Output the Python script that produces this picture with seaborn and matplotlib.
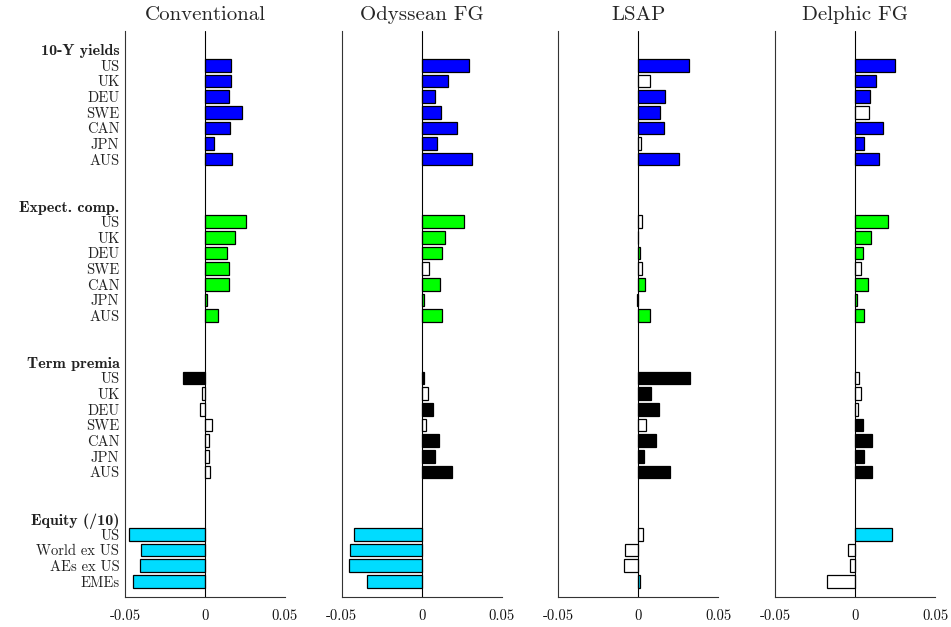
import numpy as np
import pandas as pd
import matplotlib
matplotlib.use("Agg")
import matplotlib.pyplot as plt
import seaborn as sns

sns.set_style("white")
plt.rcParams['font.family'] = ['cmr10', 'DejaVu Serif']
plt.rcParams['axes.unicode_minus'] = False
plt.rcParams['axes.formatter.use_mathtext'] = True

# ---------------- data ----------------
panel_titles = ["Conventional", "Odyssean FG", "LSAP", "Delphic FG"]
group_names = ["10-Y yields", "Expect. comp.", "Term premia", "Equity (/10)"]
countries = ["US", "UK", "DEU", "SWE", "CAN", "JPN", "AUS"]
equity_labels = ["US", "World ex US", "AEs ex US", "EMEs"]
group_colors = ["#0000FF", "#00FF00", "#000000", "#00DCFF"]

# Conventional
conv_yields = [0.0163, 0.0165, 0.0148, 0.0229, 0.0158, 0.0054, 0.0171]
conv_expect = [0.0254, 0.0185, 0.0140, 0.0152, 0.0148, 0.0015, 0.0083]
conv_term = [-0.0135, -0.0017, -0.0030, 0.0046, 0.0023, 0.0027, 0.0033]
conv_equity = [-0.0473, -0.0398, -0.0406, -0.0448]
conv_sig_yields = [1, 1, 1, 1, 1, 1, 1]
conv_sig_expect = [1, 1, 1, 1, 1, 1, 1]
conv_sig_term = [1, 0, 0, 0, 0, 0, 0]
conv_sig_equity = [1, 1, 1, 1]

# Odyssean FG
odys_yields = [0.0296, 0.0165, 0.0083, 0.0123, 0.0219, 0.0096, 0.0317]
odys_expect = [0.0267, 0.0144, 0.0127, 0.0046, 0.0117, 0.0015, 0.0127]
odys_term = [0.0012, 0.0037, 0.0069, 0.0029, 0.0106, 0.0083, 0.0192]
odys_equity = [-0.0423, -0.0448, -0.0456, -0.0344]
odys_sig_yields = [1, 1, 1, 1, 1, 1, 1]
odys_sig_expect = [1, 1, 1, 0, 1, 1, 1]
odys_sig_term = [1, 0, 1, 0, 1, 1, 1]
odys_sig_equity = [1, 1, 1, 1]

# LSAP
lsap_yields = [0.0319, 0.0075, 0.0167, 0.0133, 0.0158, 0.0019, 0.0252]
lsap_expect = [0.0025, -0.0002, 0.0008, 0.0025, 0.0044, -0.0006, 0.0075]
lsap_term = [0.0323, 0.0081, 0.0127, 0.0046, 0.0108, 0.0035, 0.0200]
lsap_equity = [0.0031, -0.0081, -0.0088, 0.0008]
lsap_sig_yields = [1, 0, 1, 1, 1, 0, 1]
lsap_sig_expect = [0, 1, 1, 0, 1, 1, 1]
lsap_sig_term = [1, 1, 1, 0, 1, 1, 1]
lsap_sig_equity = [0, 0, 0, 1]

# Delphic FG
delp_yields = [0.0250, 0.0129, 0.0092, 0.0085, 0.0173, 0.0052, 0.0150]
delp_expect = [0.0202, 0.0096, 0.0050, 0.0037, 0.0081, 0.0008, 0.0052]
delp_term = [0.0021, 0.0035, 0.0019, 0.0048, 0.0102, 0.0052, 0.0106]
delp_equity = [0.0231, -0.0044, -0.0031, -0.0177]
delp_sig_yields = [1, 1, 1, 0, 1, 1, 1]
delp_sig_expect = [1, 1, 1, 0, 1, 1, 1]
delp_sig_term = [0, 0, 0, 1, 1, 1, 1]
delp_sig_equity = [1, 0, 0, 0]

panels = [
    ([conv_yields, conv_expect, conv_term, conv_equity],
     [conv_sig_yields, conv_sig_expect, conv_sig_term, conv_sig_equity]),
    ([odys_yields, odys_expect, odys_term, odys_equity],
     [odys_sig_yields, odys_sig_expect, odys_sig_term, odys_sig_equity]),
    ([lsap_yields, lsap_expect, lsap_term, lsap_equity],
     [lsap_sig_yields, lsap_sig_expect, lsap_sig_term, lsap_sig_equity]),
    ([delp_yields, delp_expect, delp_term, delp_equity],
     [delp_sig_yields, delp_sig_expect, delp_sig_term, delp_sig_equity]),
]

# ---------------- layout of rows ----------------
group_members = [countries, countries, countries, equity_labels]
tick_pos, tick_lab, tick_bold = [], [], []
bar_pos_groups = []
pos = 1
for g, members in zip(group_names, group_members):
    tick_pos.append(pos); tick_lab.append(g); tick_bold.append(True)
    pos += 1
    ps = []
    for m in members:
        tick_pos.append(pos); tick_lab.append(m); tick_bold.append(False)
        ps.append(pos)
        pos += 1
    bar_pos_groups.append(ps)
    pos += 2

fig = plt.figure(figsize=(9.51, 6.27), dpi=100)
W, H = 951, 627
lefts = [125, 341.7, 558.3, 775.3]
top_px, bot_px = 31, 597
for k, (title, (vals, sigs)) in enumerate(zip(panel_titles, panels)):
    ax = fig.add_axes([lefts[k] / W, 1 - bot_px / H, 160 / W, (bot_px - top_px) / H])
    rows = []
    for gi in range(4):
        for j, (v, s) in enumerate(zip(vals[gi], sigs[gi])):
            p = bar_pos_groups[gi][j]
            rows.append({"pos": p, "value": v, "key": f"{gi}_{j}",
                         "color": group_colors[gi] if s else "#FFFFFF"})
    df = pd.DataFrame(rows)
    pal = dict(zip(df["key"], df["color"]))
    sns.barplot(data=df, x="value", y="pos", hue="key", palette=pal,
                orient="h", native_scale=True, dodge=False, legend=False,
                width=0.8, edgecolor="black", linewidth=0.9, saturation=1,
                ax=ax)
    ax.axvline(0, color="black", lw=0.8, zorder=5)
    ax.set_xlim(-0.05, 0.05)
    ax.set_ylim(36, -0.2)
    ax.set_xticks([-0.05, 0, 0.05])
    ax.set_xticklabels(["-0.05", "0", "0.05"], fontsize=10.5)
    ax.set_xlabel("")
    ax.set_ylabel("")
    ax.set_title(title, fontsize=15, pad=8)
    for side in ["top", "right"]:
        ax.spines[side].set_visible(False)
    for side in ["left", "bottom"]:
        ax.spines[side].set_color("#333333")
        ax.spines[side].set_linewidth(0.8)
    ax.tick_params(axis="x", direction="in", length=4, width=0.8, colors="#333333",
                   labelcolor="#111111", pad=9)
    if k == 0:
        ax.set_yticks(tick_pos)
        ax.set_yticklabels(tick_lab, fontsize=10.5)
        for lab, b in zip(ax.get_yticklabels(), tick_bold):
            if b:
                lab.set_fontfamily(['cmb10', 'DejaVu Serif'])
                lab.set_fontsize(11.5)
        ax.tick_params(axis="y", direction="in", length=4, width=0.8, colors="#333333",
                       labelcolor="#222222", pad=4)
    else:
        ax.set_yticks([])

fig.savefig("out.png", dpi=100)
